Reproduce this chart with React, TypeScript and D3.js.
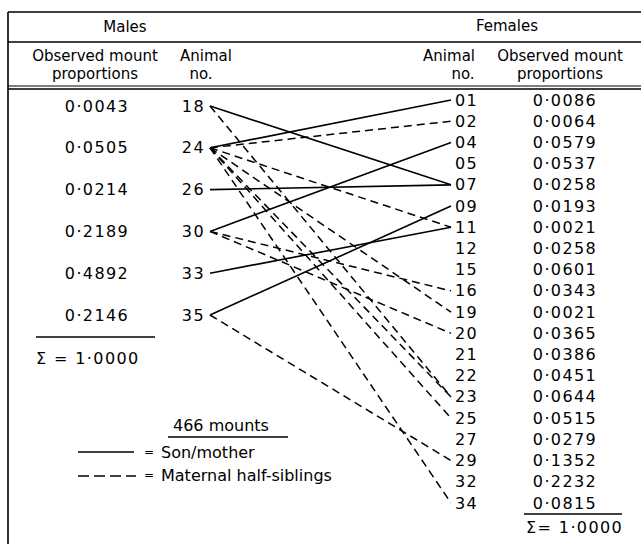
import React from "react";
import * as d3 from "d3";

const maleIds = ["18", "24", "26", "30", "33", "35"];
const maleShares = [0.0043, 0.0505, 0.0214, 0.2189, 0.4892, 0.2146];

const femaleIds = ["01", "02", "04", "05", "07", "09", "11", "12", "15", "16", "19", "20", "21", "22", "23", "25", "27", "29", "32", "34"];
const femaleShares = [
    0.0086, 0.0064, 0.0579, 0.0537, 0.0258, 0.0193, 0.0021, 0.0258, 0.0601, 0.0343,
    0.0021, 0.0365, 0.0386, 0.0451, 0.0644, 0.0515, 0.0279, 0.1352, 0.2232, 0.0815,
];

// male -> female pairs
const sonMother = [["18", "07"], ["24", "01"], ["26", "07"], ["30", "04"], ["33", "11"], ["35", "09"]];
const halfSiblings = [
    ["24", "02"], ["24", "11"], ["24", "19"], ["24", "23"], ["24", "25"], ["24", "34"],
    ["18", "23"], ["30", "16"], ["30", "20"], ["35", "29"],
];

const totalLabel = "1·0000";
const mountsLabel = "466 mounts";

const fmt = (v: number) => d3.format(".4f")(v).replace(".", "·");

export default function App() {
    const width = 641;
    const height = 544;
    const font = "'DejaVu Sans', sans-serif";

    const yMale = d3.scalePoint<string>().domain(maleIds).range([106, 315]);
    const yFemale = d3.scalePoint<string>().domain(femaleIds).range([100, 503]);
    const xMaleEnd = 210;
    const xFemaleEnd = 451;

    const line = d3.line<[number, number]>();
    const path = ([m, f]: string[]) =>
        line([[xMaleEnd, yMale(m)!], [xFemaleEnd, yFemale(f)!]]) || "";

    const txt = { fontFamily: font, fill: "#000" } as const;
    const val = { ...txt, fontSize: 16, letterSpacing: 1.4 } as const;

    return (
        <svg
            width={width}
            height={height}
            style={{ position: "absolute", left: 0, top: 0, background: "#fff" }}
        >
            {/* frame */}
            <g stroke="#000" strokeWidth={1.6}>
                <line x1={8} x2={641} y1={12} y2={12} />
                <line x1={8} x2={641} y1={42} y2={42} />
                <line x1={8} x2={641} y1={86} y2={86} strokeWidth={1.2} />
                <line x1={8} x2={641} y1={89} y2={89} strokeWidth={1.4} />
                <line x1={8} x2={8} y1={12} y2={544} />
            </g>

            {/* headers */}
            <g {...txt} fontSize={15} dominantBaseline="central">
                <text x={125} y={27} textAnchor="middle">Males</text>
                <text x={507} y={26} textAnchor="middle">Females</text>
                <text x={95} y={56} textAnchor="middle">Observed  mount</text>
                <text x={95} y={74} textAnchor="middle">proportions</text>
                <text x={180} y={56}>Animal</text>
                <text x={201} y={74} textAnchor="middle">no.</text>
                <text x={475} y={56} textAnchor="end">Animal</text>
                <text x={463} y={74} textAnchor="middle">no.</text>
                <text x={560} y={56} textAnchor="middle">Observed  mount</text>
                <text x={560} y={74} textAnchor="middle">proportions</text>
            </g>

            {/* males */}
            <g dominantBaseline="central">
                {maleIds.map((id, i) => (
                    <g key={id}>
                        <text {...val} x={97} y={yMale(id)} textAnchor="middle">{fmt(maleShares[i])}</text>
                        <text {...val} x={205} y={yMale(id)} textAnchor="end">{id}</text>
                    </g>
                ))}
                <line x1={36} x2={155} y1={337} y2={337} stroke="#000" strokeWidth={1.4} />
                <text {...val} x={36} y={358}>{`Σ = ${totalLabel}`}</text>
            </g>

            {/* females */}
            <g dominantBaseline="central">
                {femaleIds.map((id, i) => (
                    <g key={id}>
                        <text {...val} x={455} y={yFemale(id)}>{id}</text>
                        <text {...val} x={565} y={yFemale(id)} textAnchor="middle">{fmt(femaleShares[i])}</text>
                    </g>
                ))}
                <line x1={524} x2={622} y1={514} y2={514} stroke="#000" strokeWidth={1.4} />
                <text {...val} x={526} y={527}>{`Σ= ${totalLabel}`}</text>
            </g>

            {/* links */}
            <g fill="none" stroke="#000">
                {sonMother.map((p) => (
                    <path key={"s" + p.join("-")} d={path(p)} strokeWidth={1.6} />
                ))}
                {halfSiblings.map((p) => (
                    <path key={"h" + p.join("-")} d={path(p)} strokeWidth={1.5} strokeDasharray="8 5" />
                ))}
            </g>

            {/* legend */}
            <g {...txt} fontSize={16} dominantBaseline="central">
                <text x={173} y={425}>{mountsLabel}</text>
                <line x1={168} x2={288} y1={437} y2={437} stroke="#000" strokeWidth={1.4} />
                <line x1={78} x2={134} y1={452} y2={452} stroke="#000" strokeWidth={1.6} />
                <text x={149} y={452} fontSize={12} textAnchor="middle">=</text>
                <text x={161} y={452}>Son/mother</text>
                <line x1={78} x2={136} y1={476} y2={476} stroke="#000" strokeWidth={1.5} strokeDasharray="11 5" />
                <text x={149} y={475} fontSize={12} textAnchor="middle">=</text>
                <text x={161} y={475}>Maternal half-siblings</text>
            </g>
        </svg>
    );
}
